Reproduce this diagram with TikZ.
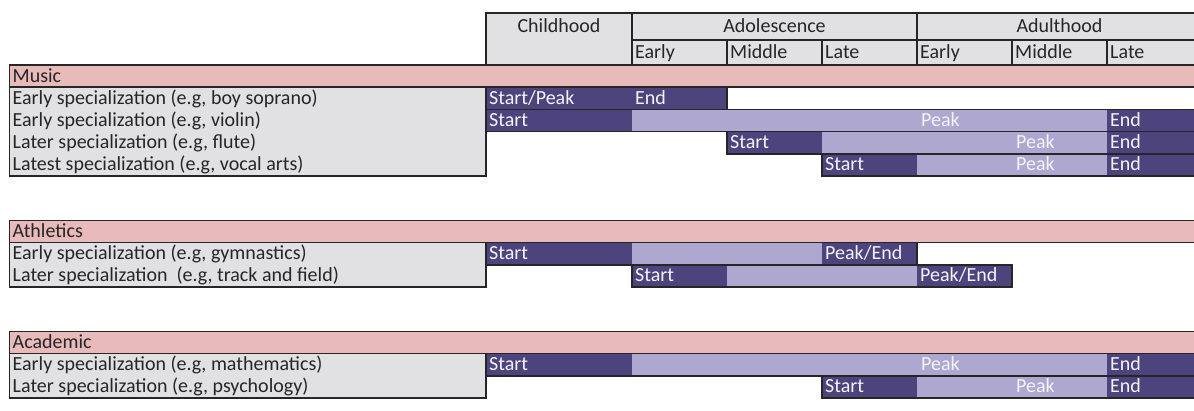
\documentclass[tikz,border=0pt]{standalone}
\usepackage{fontspec}
\setmainfont{Carlito}
\definecolor{pinkrow}{HTML}{E8BABA}
\definecolor{darkbar}{HTML}{4D447D}
\definecolor{lightbar}{HTML}{AEA7D0}
\definecolor{labgray}{HTML}{E1E1E3}
\definecolor{edge}{HTML}{262626}
\definecolor{ink}{HTML}{262626}
\definecolor{barink}{HTML}{F4F4F8}
\tikzset{
  frame/.style={draw=edge, line width=1.6pt},
  txt/.style={anchor=base west, inner sep=0pt, font=\fontsize{20pt}{23pt}\selectfont, text=ink},
  bartxt/.style={txt, text=barink},
  headtxt/.style={anchor=base, inner sep=0pt, font=\fontsize{20pt}{23pt}\selectfont, text=ink},
}
\begin{document}
\begin{tikzpicture}[x=1pt,y=-1pt]
\useasboundingbox (0,0) rectangle (1194,410);
\clip (0,0) rectangle (1194,410);

% ---------- header ----------
\fill[labgray] (486,13) rectangle (1202,65);
\draw[frame] (486,13) rectangle (632,65);
\draw[frame] (632,13) rectangle (917,40);
\draw[frame] (917,13) rectangle (1202,40);
\foreach \a/\b in {632/727,727/822,822/917,917/1012,1012/1107,1107/1202}
  \draw[frame] (\a,40) rectangle (\b,65);
\node[headtxt] (hchild) at (559,32.5) {Childhood};
\node[headtxt] (hadol) at (774.5,32.5) {Adolescence};
\node[headtxt] (hadult) at (1059.5,32.5) {Adulthood};
\node[txt] (s1) at (635,58.5) {Early};
\node[txt] (s2) at (730,58.5) {Middle};
\node[txt] (s3) at (825,58.5) {Late};
\node[txt] (s4) at (920,58.5) {Early};
\node[txt] (s5) at (1015,58.5) {Middle};
\node[txt] (s6) at (1110,58.5) {Late};

% ---------- Music ----------
\fill[pinkrow] (9.5,65) rectangle (1202,87.2);
\draw[frame] (9.5,65) rectangle (1202,87.2);
\node[txt] (music) at (12.5,82) {Music};
\fill[labgray] (9.5,87.2) rectangle (486,176);
\draw[frame] (9.5,87.2) rectangle (486,176);
\node[txt] (m1) at (12.5,104.2) {Early specialization (e.g, boy soprano)};
\node[txt] (m2) at (12.5,126.4) {Early specialization (e.g, violin)};
\node[txt] (m3) at (12.5,148.6) {Later specialization (e.g, flute)};
\node[txt] (m4) at (12.5,170.8) {Latest specialization (e.g, vocal arts)};

% boy soprano
\fill[darkbar] (486,87.2) rectangle (727,109.4);
\draw[frame] (486,87.2) rectangle (727,109.4);
\node[bartxt] (m1a) at (489,104.2) {Start/Peak};
\node[bartxt] (m1b) at (635,104.2) {End};
% violin
\fill[darkbar] (486,109.4) rectangle (632,131.6);
\fill[lightbar] (632,109.4) rectangle (1107,131.6);
\fill[darkbar] (1107,109.4) rectangle (1202,131.6);
\draw[frame] (486,109.4) rectangle (1202,131.6);
\node[bartxt] (m2a) at (489,126.4) {Start};
\node[bartxt] (m2b) at (921,126.4) {Peak};
\node[bartxt] (m2c) at (1110,126.4) {End};
% flute
\fill[darkbar] (727,131.6) rectangle (822,153.8);
\fill[lightbar] (822,131.6) rectangle (1107,153.8);
\fill[darkbar] (1107,131.6) rectangle (1202,153.8);
\draw[frame] (727,131.6) rectangle (1202,153.8);
\node[bartxt] (m3a) at (730,148.6) {Start};
\node[bartxt] (m3b) at (1016,148.6) {Peak};
\node[bartxt] (m3c) at (1110,148.6) {End};
% vocal arts
\fill[darkbar] (822,153.8) rectangle (917,176);
\fill[lightbar] (917,153.8) rectangle (1107,176);
\fill[darkbar] (1107,153.8) rectangle (1202,176);
\draw[frame] (822,153.8) rectangle (1202,176);
\node[bartxt] (m4a) at (825,170.8) {Start};
\node[bartxt] (m4b) at (1016,170.8) {Peak};
\node[bartxt] (m4c) at (1110,170.8) {End};

% ---------- Athletics ----------
\fill[pinkrow] (9.5,220.4) rectangle (1202,242.6);
\draw[frame] (9.5,220.4) rectangle (1202,242.6);
\node[txt] (ath) at (12.5,237.4) {Athletics};
\fill[labgray] (9.5,242.6) rectangle (486,287);
\draw[frame] (9.5,242.6) rectangle (486,287);
\node[txt] (a1) at (12.5,259.6) {Early specialization (e.g, gymnastics)};
\node[txt] (a2) at (12.5,281.8) {Later specialization\ \ (e.g, track and field)};
% gymnastics
\fill[darkbar] (486,242.6) rectangle (632,264.8);
\fill[lightbar] (632,242.6) rectangle (822,264.8);
\fill[darkbar] (822,242.6) rectangle (917,264.8);
\draw[frame] (486,242.6) rectangle (917,264.8);
\node[bartxt] (a1a) at (489,259.6) {Start};
\node[bartxt] (a1b) at (825,259.6) {Peak/End};
% track and field
\fill[darkbar] (632,264.8) rectangle (727,287);
\fill[lightbar] (727,264.8) rectangle (917,287);
\fill[darkbar] (917,264.8) rectangle (1012,287);
\draw[frame] (632,264.8) rectangle (1012,287);
\node[bartxt] (a2a) at (635,281.8) {Start};
\node[bartxt] (a2b) at (920,281.8) {Peak/End};

% ---------- Academic ----------
\fill[pinkrow] (9.5,331.4) rectangle (1202,353.6);
\draw[frame] (9.5,331.4) rectangle (1202,353.6);
\node[txt] (acad) at (12.5,348.4) {Academic};
\fill[labgray] (9.5,353.6) rectangle (486,398);
\draw[frame] (9.5,353.6) rectangle (486,398);
\node[txt] (c1) at (12.5,370.6) {Early specialization (e.g, mathematics)};
\node[txt] (c2) at (12.5,392.8) {Later specialization (e.g, psychology)};
% mathematics
\fill[darkbar] (486,353.6) rectangle (632,375.8);
\fill[lightbar] (632,353.6) rectangle (1107,375.8);
\fill[darkbar] (1107,353.6) rectangle (1202,375.8);
\draw[frame] (486,353.6) rectangle (1202,375.8);
\node[bartxt] (c1a) at (489,370.6) {Start};
\node[bartxt] (c1b) at (921,370.6) {Peak};
\node[bartxt] (c1c) at (1110,370.6) {End};
% psychology
\fill[darkbar] (822,375.8) rectangle (917,398);
\fill[lightbar] (917,375.8) rectangle (1107,398);
\fill[darkbar] (1107,375.8) rectangle (1202,398);
\draw[frame] (822,375.8) rectangle (1202,398);
\node[bartxt] (c2a) at (825,392.8) {Start};
\node[bartxt] (c2b) at (1016,392.8) {Peak};
\node[bartxt] (c2c) at (1110,392.8) {End};
\end{tikzpicture}
\end{document}
